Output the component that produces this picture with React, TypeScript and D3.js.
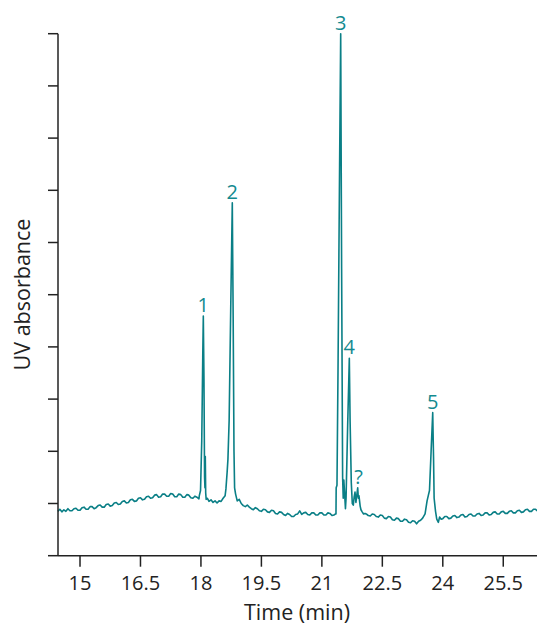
import React from "react";
import * as d3 from "d3";

// Chromatogram trace: [time (min), UV absorbance (axis units)]
const baselineA: [number, number][] = [
  [14.45, 0.85], [14.5, 0.89], [14.55, 0.84], [14.6, 0.88], [14.65, 0.85], [14.7, 0.9], [14.75, 0.86],
  [14.8, 0.86], [14.85, 0.9], [14.9, 0.91], [14.95, 0.87], [15.0, 0.87], [15.05, 0.92], [15.1, 0.93],
  [15.15, 0.89], [15.2, 0.89], [15.25, 0.94], [15.3, 0.94], [15.35, 0.9], [15.4, 0.92], [15.45, 0.96],
  [15.5, 0.97], [15.55, 0.93], [15.6, 0.93], [15.65, 0.98], [15.7, 0.99], [15.75, 0.95], [15.8, 0.96],
  [15.85, 1.01], [15.9, 1.02], [15.95, 0.98], [16.0, 0.99], [16.05, 1.04], [16.1, 1.05], [16.15, 1.01],
  [16.2, 1.02], [16.25, 1.07], [16.3, 1.08], [16.35, 1.04], [16.4, 1.05], [16.45, 1.1], [16.5, 1.11],
  [16.55, 1.07], [16.6, 1.08], [16.65, 1.13], [16.7, 1.14], [16.75, 1.1], [16.8, 1.11], [16.85, 1.16],
  [16.9, 1.17], [16.95, 1.12], [17.0, 1.13], [17.05, 1.18], [17.1, 1.18], [17.15, 1.14], [17.2, 1.14],
  [17.25, 1.19], [17.3, 1.18], [17.35, 1.13], [17.4, 1.13], [17.45, 1.18], [17.5, 1.17], [17.55, 1.12],
  [17.6, 1.12], [17.65, 1.17], [17.7, 1.16], [17.75, 1.11], [17.8, 1.1], [17.85, 1.14], [17.9, 1.12],
  [17.95, 1.09],
];

const peaks12: [number, number][] = [
  [17.96, 1.15], [17.99, 1.25], [18.02, 2.2], [18.045, 3.8], [18.059, 4.59], [18.075, 3.4],
  [18.09, 1.5], [18.1, 1.3], [18.108, 1.9], [18.118, 1.2], [18.13, 1.08], [18.16, 1.1],
  [18.2, 1.04], [18.25, 1.07], [18.3, 1.02], [18.35, 1.05], [18.4, 1.01], [18.45, 1.05],
  [18.5, 1.04], [18.55, 1.1], [18.6, 1.15], [18.62, 1.28], [18.65, 1.6], [18.67, 1.85],
  [18.7, 2.6], [18.74, 4.8], [18.778, 6.76], [18.8, 4.5], [18.82, 2.0], [18.835, 1.3],
  [18.86, 1.18], [18.9, 1.05], [18.95, 1.08],
];

const baselineB: [number, number][] = [
  [19.0, 1.0], [19.05, 0.96], [19.1, 0.94], [19.15, 0.97], [19.2, 0.93], [19.25, 0.9], [19.3, 0.88],
  [19.35, 0.92], [19.4, 0.9], [19.45, 0.86], [19.5, 0.85], [19.55, 0.89], [19.6, 0.88], [19.65, 0.84],
  [19.7, 0.83], [19.75, 0.87], [19.8, 0.86], [19.85, 0.81], [19.9, 0.8], [19.95, 0.84], [20.0, 0.83],
  [20.05, 0.79], [20.1, 0.77], [20.15, 0.81], [20.2, 0.79], [20.25, 0.75], [20.3, 0.75], [20.35, 0.79],
  [20.4, 0.8], [20.45, 0.86], [20.5, 0.79], [20.55, 0.82], [20.6, 0.83], [20.65, 0.79], [20.7, 0.78],
  [20.75, 0.82], [20.8, 0.82], [20.85, 0.78], [20.9, 0.78], [20.95, 0.82], [21.0, 0.82], [21.05, 0.78],
  [21.1, 0.78], [21.15, 0.82], [21.2, 0.81], [21.25, 0.77], [21.3, 0.78], [21.34, 0.8],
];

const peaks34: [number, number][] = [
  [21.35, 0.8], [21.355, 1.3], [21.375, 1.35], [21.4, 3.5], [21.435, 7.0], [21.467, 10.0],
  [21.49, 5.5], [21.515, 1.5], [21.53, 1.1], [21.545, 1.45], [21.56, 1.25], [21.585, 0.9],
  [21.6, 1.1], [21.64, 2.5], [21.681, 3.78], [21.7, 2.6], [21.73, 1.4], [21.755, 1.0],
  [21.78, 0.97], [21.8, 1.12], [21.822, 1.22], [21.845, 1.02], [21.86, 1.12], [21.889, 1.3],
  [21.905, 1.1], [21.92, 1.15], [21.95, 0.95], [21.97, 0.88], [22.0, 0.84], [22.035, 0.8], [22.07, 0.81],
];

const tail: [number, number][] = [
  [22.1, 0.8], [22.15, 0.77], [22.2, 0.76], [22.25, 0.8], [22.3, 0.79], [22.35, 0.75], [22.4, 0.74],
  [22.45, 0.78], [22.5, 0.77], [22.55, 0.72], [22.6, 0.71], [22.65, 0.75], [22.7, 0.74], [22.75, 0.69],
  [22.8, 0.68], [22.85, 0.72], [22.9, 0.71], [22.95, 0.66], [23.0, 0.66], [23.05, 0.7], [23.1, 0.69],
  [23.15, 0.64], [23.2, 0.63], [23.25, 0.67], [23.3, 0.66], [23.35, 0.61], [23.4, 0.66], [23.45, 0.68],
  [23.5, 0.72], [23.56, 0.8], [23.61, 1.05], [23.64, 1.15], [23.67, 1.25], [23.71, 2.0], [23.75, 2.74],
  [23.77, 1.9], [23.785, 1.1], [23.82, 0.85], [23.85, 0.7], [23.89, 0.64], [23.92, 0.74], [23.96, 0.7],
  [24.0, 0.71], [24.05, 0.75], [24.1, 0.75], [24.15, 0.71], [24.2, 0.72], [24.25, 0.76], [24.3, 0.77],
  [24.35, 0.73], [24.4, 0.74], [24.45, 0.78], [24.5, 0.79], [24.55, 0.74], [24.6, 0.75], [24.65, 0.79],
  [24.7, 0.8], [24.75, 0.76], [24.8, 0.76], [24.85, 0.8], [24.9, 0.81], [24.95, 0.77], [25.0, 0.78],
  [25.05, 0.82], [25.1, 0.82], [25.15, 0.78], [25.2, 0.79], [25.25, 0.83], [25.3, 0.84], [25.35, 0.8],
  [25.4, 0.8], [25.45, 0.84], [25.5, 0.85], [25.55, 0.81], [25.6, 0.81], [25.65, 0.85], [25.7, 0.86],
  [25.75, 0.82], [25.8, 0.82], [25.85, 0.86], [25.9, 0.87], [25.95, 0.83], [26.0, 0.84], [26.05, 0.88],
  [26.1, 0.89], [26.15, 0.85], [26.2, 0.85], [26.25, 0.89], [26.3, 0.89], [26.34, 0.86],
];

const peakLabels = ["1", "2", "3", "4", "?", "5"];
const peakTimes = [18.059, 18.778, 21.467, 21.681, 21.909, 23.75];
const peakValues = [4.59, 6.76, 10.0, 3.78, 1.3, 2.74];

const xTicks = [15, 16.5, 18, 19.5, 21, 22.5, 24, 25.5];
const xTickLabels = ["15", "16.5", "18", "19.5", "21", "22.5", "24", "25.5"];
const yTicks = [0, 1, 2, 3, 4, 5, 6, 7, 8, 9, 10];

const W = 537;
const H = 625;
const FONT = "'Open Sans', 'Noto Sans', Arial, sans-serif";
const TEAL = "#0a7f86";
const LABEL_TEAL = "#138a90";
const INK = "#222222";

export default function App() {
  const trace = [...baselineA, ...peaks12, ...baselineB, ...peaks34, ...tail];
  const x = d3.scaleLinear().domain([14.454, 26.337]).range([58, 537]);
  const y = d3.scaleLinear().domain([0, 10]).range([555.7, 33.7]);
  const line = d3
    .line<[number, number]>()
    .x((d) => x(d[0]))
    .y((d) => y(d[1]));

  const axisX = x.range()[0];
  const axisY = y(0);

  return (
    <svg
      width={W}
      height={H}
      style={{ position: "absolute", left: 0, top: 0, background: "#fff" }}
      fontFamily={FONT}
    >
      <path d={line(trace) || ""} fill="none" stroke={TEAL} strokeWidth={1.6} strokeLinejoin="round" />

      {/* y axis */}
      <line x1={axisX} x2={axisX} y1={y(10)} y2={axisY} stroke={INK} strokeWidth={1.5} />
      {yTicks.map((t) => (
        <line key={"yt" + t} x1={axisX - 10} x2={axisX} y1={y(t)} y2={y(t)} stroke={INK} strokeWidth={1.5} />
      ))}

      {/* x axis */}
      <line x1={axisX} x2={W} y1={axisY} y2={axisY} stroke={INK} strokeWidth={1.5} />
      {xTicks.map((t, i) => (
        <g key={"xt" + t}>
          <line x1={x(t)} x2={x(t)} y1={axisY} y2={axisY + 11} stroke={INK} strokeWidth={1.5} />
          <text x={x(t)} y={590} textAnchor="middle" fontSize={20} fill={INK}>
            {xTickLabels[i]}
          </text>
        </g>
      ))}

      <text x={297} y={620} textAnchor="middle" fontSize={21.5} fill={INK}>
        Time (min)
      </text>
      <text
        transform={`translate(29.5, 294.5) rotate(-90)`}
        textAnchor="middle"
        fontSize={21.5}
        fill={INK}
      >
        UV absorbance
      </text>

      {peakLabels.map((lab, i) => (
        <text
          key={"pl" + i}
          x={x(peakTimes[i])}
          y={y(peakValues[i]) - 4}
          textAnchor="middle"
          fontSize={20}
          fill={LABEL_TEAL}
        >
          {lab}
        </text>
      ))}
    </svg>
  );
}
